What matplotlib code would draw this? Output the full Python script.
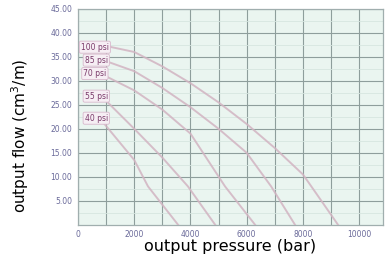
import matplotlib
matplotlib.use("Agg")
import matplotlib.pyplot as plt
import numpy as np

# data
labels = ["100 psi", "85 psi", "70 psi", "55 psi", "40 psi"]
p100_x = [800, 2000, 3000, 4000, 5000, 6000, 7000, 8000, 8300, 9250]
p100_y = [37.5, 36, 33, 29.5, 25.5, 21, 16, 10.5, 8, 0]
p85_x = [800, 2000, 3000, 4000, 5000, 6000, 6870, 7720]
p85_y = [34.5, 32, 28.5, 24.5, 20, 15, 8, 0]
p70_x = [800, 2000, 3000, 4000, 5230, 6300]
p70_y = [31.5, 28, 24, 19, 8, 0]
p55_x = [800, 2000, 3000, 3910, 4880]
p55_y = [27, 20, 14, 8, 0]
p40_x = [800, 2000, 2490, 3560]
p40_y = [22, 13.5, 8, 0]
label_x = [600, 650, 600, 650, 650]
label_y = [37.0, 34.3, 31.5, 26.8, 22.2]
xticks = [0, 2000, 4000, 6000, 8000, 10000]
yticks = [5, 10, 15, 20, 25, 30, 35, 40, 45]

fig = plt.figure(figsize=(3.9, 2.66), dpi=100)
ax = fig.add_axes([0.2, 0.155, 0.782, 0.812])
ax.set_facecolor("#eaf5f0")
ax.set_xlim(0, 10850)
ax.set_ylim(0, 45)

ax.set_xticks(xticks)
ax.set_xticklabels([str(v) for v in xticks])
ax.set_yticks(yticks)
ax.set_yticklabels([f"{v:.2f}" for v in yticks])
ax.set_xticks(np.arange(1000, 10850, 1000), minor=True)
ax.set_yticks(np.arange(2.5, 45, 5), minor=True)
ax.grid(True, which="major", color="#8e9e9c", linewidth=0.8)
ax.grid(True, which="minor", axis="x", color="#8e9e9c", linewidth=0.8)
ax.grid(True, which="minor", axis="y", color="#d6e6e0", linewidth=0.6)
ax.set_axisbelow(True)
ax.tick_params(which="both", length=0, labelsize=5.5, labelcolor="#6a6a9a", pad=4)
for s in ax.spines.values():
    s.set_color("#a0aeae")
    s.set_linewidth(0.9)

series = [(p100_x, p100_y), (p85_x, p85_y), (p70_x, p70_y), (p55_x, p55_y), (p40_x, p40_y)]
for xs, ys in series:
    ax.plot(xs, ys, color="#d2b4c2", linewidth=1.4, alpha=0.85, zorder=3)

for lab, lx, ly in zip(labels, label_x, label_y):
    ax.text(lx, ly, lab, fontsize=5.5, color="#7a3a6a", ha="center", va="center", zorder=5,
            bbox=dict(boxstyle="round,pad=0.2", fc="#f6eef4", ec="#d8b8cc", lw=0.6))

ax.set_xlabel("output pressure (bar)", fontsize=11.5, labelpad=0)
ax.set_ylabel("output flow (cm$^3$/m)", fontsize=11)
ax.yaxis.set_label_coords(-0.155, 0.41)

fig.savefig("out.png", dpi=100)
